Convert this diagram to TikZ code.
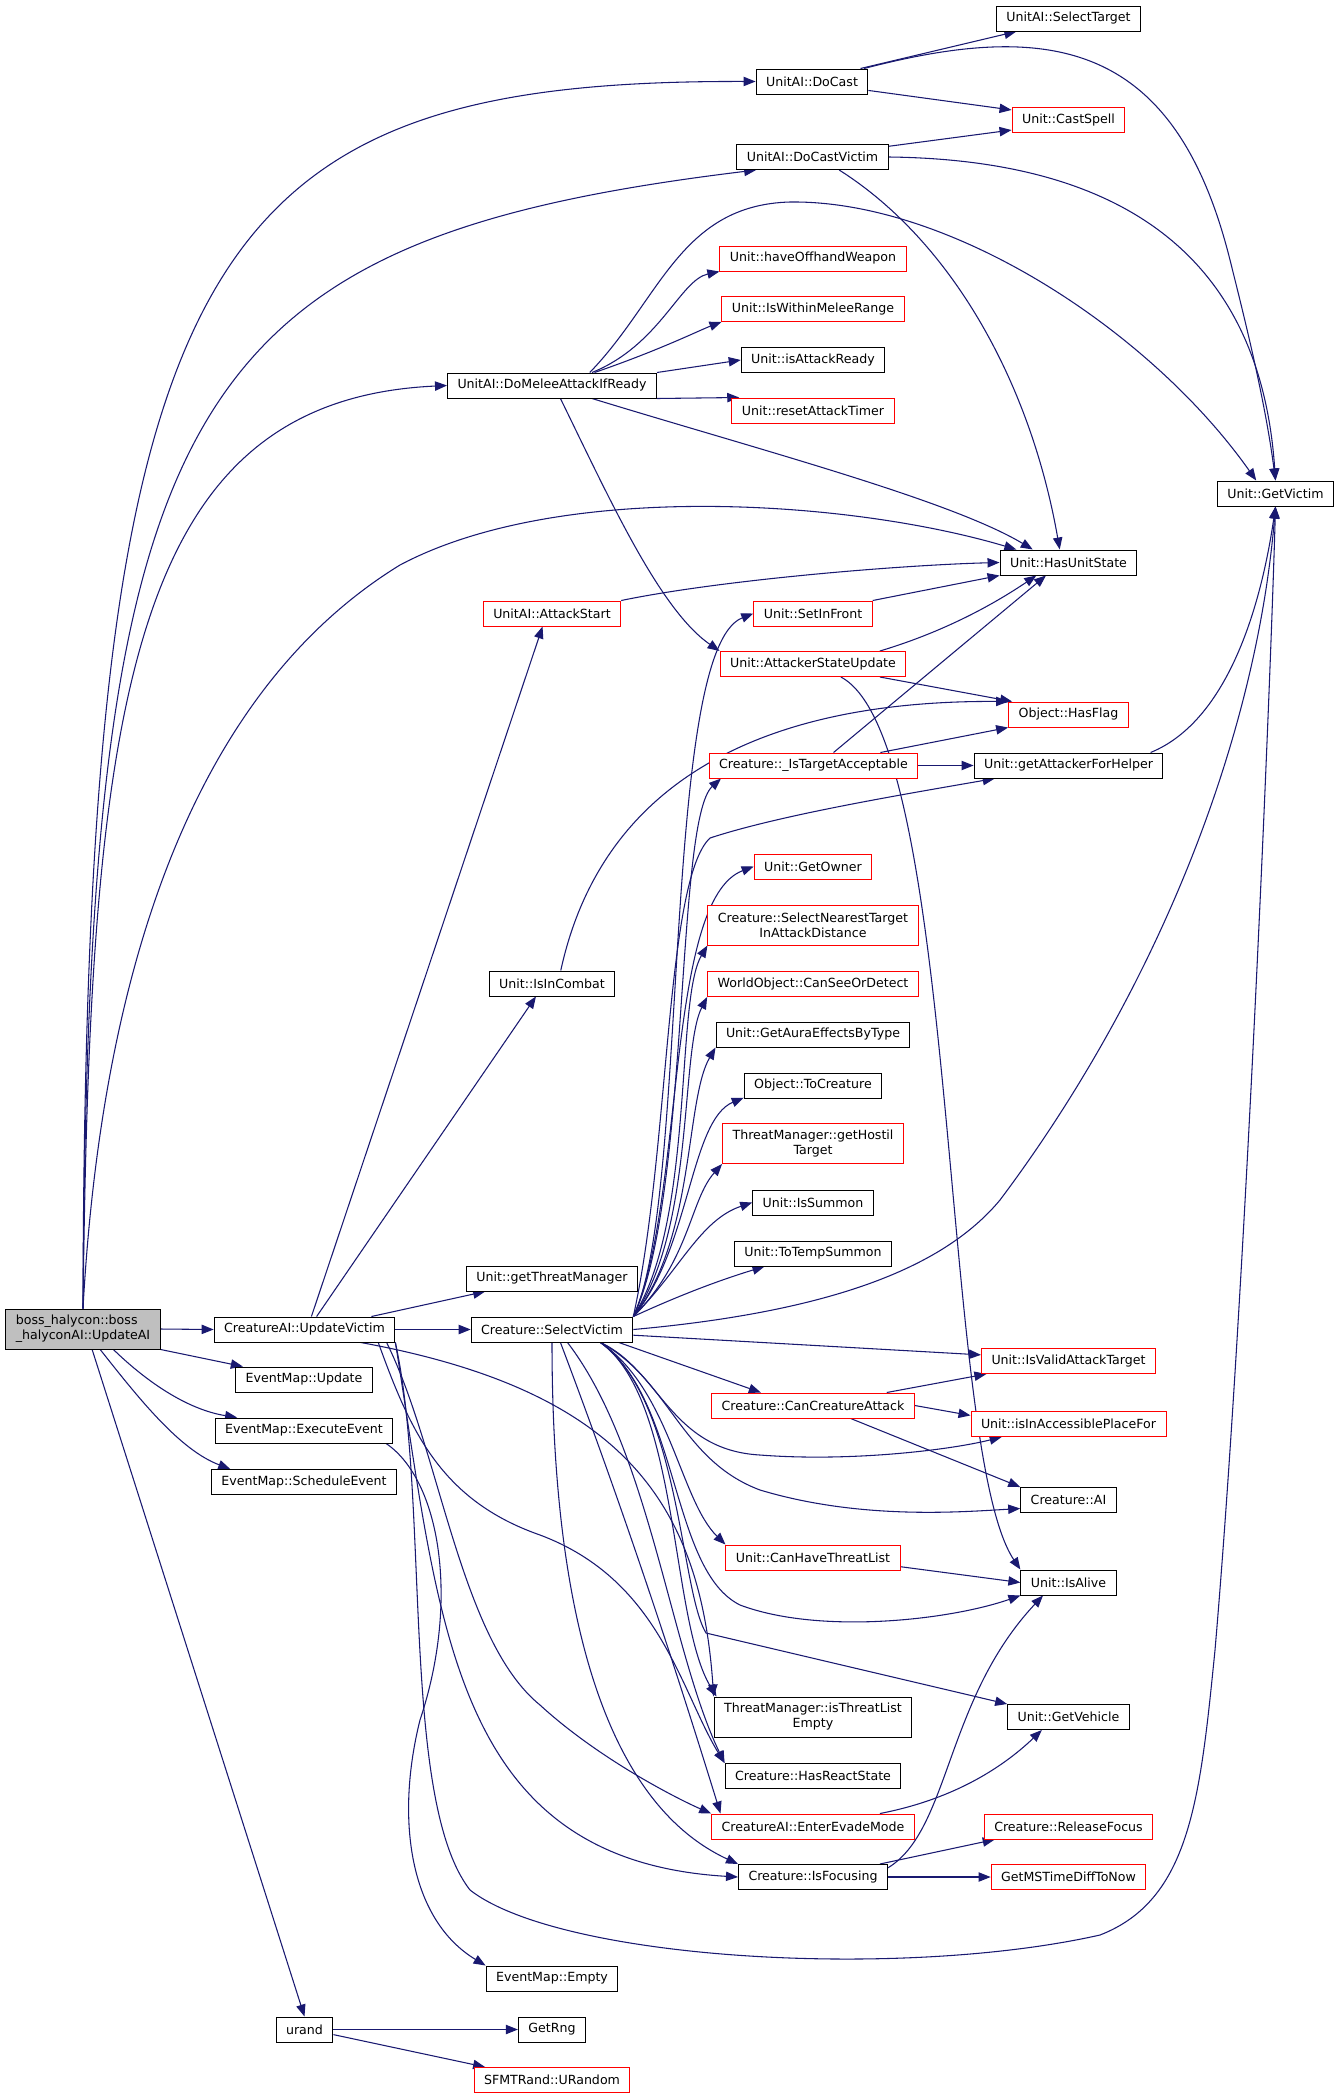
\documentclass[tikz,border=0pt]{standalone}
\usepackage{fontspec}
\setmainfont{DejaVu Sans}
\usetikzlibrary{arrows.meta,backgrounds}
\definecolor{edgeblue}{HTML}{191970}
\definecolor{rootgray}{HTML}{BFBFBF}

\begin{document}
\begin{tikzpicture}[x=0.75pt,y=-0.75pt,
    font=\fontsize{9.45}{11.25}\selectfont,
    fn/.style={draw=black,line width=0.75pt,fill=white,inner xsep=7.5pt,inner ysep=2pt,minimum height=18.75pt},
    fnred/.style={fn,draw=red},
    fnroot/.style={fn,fill=rootgray,align=left,minimum height=30pt},
    two/.style={align=center,minimum height=30pt},
    call/.style={draw=edgeblue,line width=0.8pt,-{Triangle[length=9pt,width=7pt]}}]
    \useasboundingbox (0,0) rectangle (1340,2099);

    \node[fnroot] (root) at (83,1329) {boss\_halycon::boss\\\_halyconAI::UpdateAI};

    \node[fn] (uv) at (304.5,1329.5) {CreatureAI::UpdateVictim};
    \node[fn] (emupd) at (304,1379.5) {EventMap::Update};
    \node[fn] (emexec) at (304,1430.5) {EventMap::ExecuteEvent};
    \node[fn] (emsched) at (304,1482) {EventMap::ScheduleEvent};
    \node[fn] (urand) at (304.5,2029.5) {urand};

    \node[fn] (dm) at (552,385.5) {UnitAI::DoMeleeAttackIfReady};
    \node[fnred] (as) at (552,613.5) {UnitAI::AttackStart};
    \node[fn] (ic) at (552,983.5) {Unit::IsInCombat};
    \node[fn] (gtm) at (552,1278.5) {Unit::getThreatManager};
    \node[fn] (sv) at (552,1329.5) {Creature::SelectVictim};
    \node[fn] (emp) at (552,1978.5) {EventMap::Empty};
    \node[fn] (rng) at (552,2029.5) {GetRng};
    \node[fnred] (sfmt) at (552,2080) {SFMTRand::URandom};

    \node[fn] (dc) at (812,81.5) {UnitAI::DoCast};
    \node[fn] (dcv) at (812.5,157) {UnitAI::DoCastVictim};
    \node[fnred] (hoff) at (813,258.5) {Unit::haveOffhandWeapon};
    \node[fnred] (iwmr) at (813,309) {Unit::IsWithinMeleeRange};
    \node[fn] (iar) at (813,360) {Unit::isAttackReady};
    \node[fnred] (rat) at (813,410.5) {Unit::resetAttackTimer};
    \node[fnred] (sif) at (813,613.5) {Unit::SetInFront};
    \node[fnred] (asu) at (813,664) {Unit::AttackerStateUpdate};
    \node[fnred] (ita) at (813.5,765.5) {Creature::\_IsTargetAcceptable};
    \node[fnred] (go) at (813,866.5) {Unit::GetOwner};
    \node[fnred,two] (snt) at (813,925) {Creature::SelectNearestTarget\\InAttackDistance};
    \node[fnred] (csd) at (813,984) {WorldObject::CanSeeOrDetect};
    \node[fn] (gaet) at (813,1034.5) {Unit::GetAuraEffectsByType};
    \node[fn] (tc) at (813,1085.5) {Object::ToCreature};
    \node[fnred,two] (ght) at (813,1143.5) {ThreatManager::getHostil\\Target};
    \node[fn] (is) at (813,1202.5) {Unit::IsSummon};
    \node[fn] (tts) at (813,1253.5) {Unit::ToTempSummon};
    \node[fnred] (cca) at (813,1405.5) {Creature::CanCreatureAttack};
    \node[fnred] (chtl) at (813,1557.5) {Unit::CanHaveThreatList};
    \node[fn,two] (itle) at (813,1717) {ThreatManager::isThreatList\\Empty};
    \node[fn] (hrs) at (813,1776) {Creature::HasReactState};
    \node[fnred] (eem) at (813,1826.5) {CreatureAI::EnterEvadeMode};
    \node[fn] (isf) at (813,1877) {Creature::IsFocusing};

    \node[fn] (st) at (1068.5,18.5) {UnitAI::SelectTarget};
    \node[fnred] (cs) at (1068.5,120) {Unit::CastSpell};
    \node[fn] (hus) at (1068.5,562.5) {Unit::HasUnitState};
    \node[fnred] (hf) at (1068.5,714.5) {Object::HasFlag};
    \node[fn] (gafh) at (1068.5,765.5) {Unit::getAttackerForHelper};
    \node[fnred] (ivat) at (1068.5,1361) {Unit::IsValidAttackTarget};
    \node[fnred] (iapf) at (1068.5,1424) {Unit::isInAccessiblePlaceFor};
    \node[fn] (cai) at (1068.5,1500) {Creature::AI};
    \node[fn] (ia) at (1068.5,1582.5) {Unit::IsAlive};
    \node[fn] (gveh) at (1068.5,1717) {Unit::GetVehicle};
    \node[fnred] (rf) at (1068.5,1826.5) {Creature::ReleaseFocus};
    \node[fnred] (gms) at (1068.5,1877) {GetMSTimeDiffToNow};

    \node[fn] (gv) at (1275.5,493.5) {Unit::GetVictim};

    \begin{scope}[on background layer]
    \draw[call] (root.north) .. controls (85,250) and (200,80) .. (dc.west);
    \draw[call] (root.north) .. controls (88,400) and (180,240) .. (dcv.193);
    \draw[call] (root.north) .. controls (90,700) and (130,400) .. (dm.west);
    \draw[call] (root.north) .. controls (100,1000) and (180,700) .. (400,565) .. controls (560,480) and (850,500) .. (hus.166);
    \draw[call] (root.east) -- (uv.west);
    \draw[call] (root.south east) -- (emupd.168);
    \draw[call] (root.326) .. controls (150,1385) and (190,1410) .. (emexec.169);
    \draw[call] (root.310) .. controls (140,1400) and (180,1450) .. (emsched.170);
    \draw[call] (root.294) -- (urand.north);

    \draw[call] (uv.62) -- (as.234);
    \draw[call] (uv.47) -- (ic.219);
    \draw[call] (uv.11) -- (gtm.191);
    \draw[call] (uv.east) -- (sv.west);
    \draw[call] (uv.347) .. controls (620,1390) and (700,1500) .. (itle.north west);
    \draw[call] (uv.350.5) .. controls (410,1430) and (440,1500) .. (540,1535) .. controls (660,1580) and (680,1690) .. (hrs.north west);
    \draw[call] (uv.351.5) .. controls (440,1450) and (460,1640) .. (540,1705) .. controls (600,1760) and (680,1800) .. (eem.north west);
    \draw[call] (uv.352) .. controls (440,1620) and (450,1860) .. (isf.west);
    \draw[call] (uv.south east) .. controls (430,1500) and (400,1800) .. (470,1890) .. controls (560,1960) and (900,1980) .. (1100,1935) .. controls (1190,1900) and (1200,1800) .. (1215,1650) .. controls (1245,1300) and (1270,700) .. (gv.south);

    \draw[call] (dc.15) -- (st.194);
    \draw[call] (dc.351) -- (cs.170);
    \draw[call] (dc.14) .. controls (1050,20) and (1175,40) .. (1230,260) .. controls (1245,320) and (1265,400) .. (gv.north);
    \draw[call] (dcv.8) -- (cs.190);
    \draw[call] (dcv.east) .. controls (1150,160) and (1262,280) .. (gv.north);
    \draw[call] (dcv.334) .. controls (950,240) and (1030,380) .. (hus.124);

    \draw[call] (dm.18) .. controls (660,345) and (680,280) .. (hoff.south west);
    \draw[call] (dm.17) .. controls (660,350) and (700,330) .. (iwmr.south west);
    \draw[call] (dm.north east) -- (iar.west);
    \draw[call] (dm.south east) -- (rat.170);
    \draw[call] (dm.342) .. controls (760,450) and (950,500) .. (hus.160);
    \draw[call] (dm.303) .. controls (610,500) and (660,610) .. (asu.north west);
    \draw[call] (dm.19) .. controls (660,300) and (680,205) .. (790,202) .. controls (950,200) and (1150,330) .. (gv.146);

    \draw[call] (as.north east) .. controls (720,580) and (900,565) .. (hus.west);
    \draw[call] (sif.north east) -- (hus.south west);
    \draw[call] (asu.11) .. controls (950,630) and (1000,600) .. (hus.202);
    \draw[call] (asu.349) -- (hf.167);
    \draw[call] (asu.335) .. controls (960,740) and (940,1450) .. (ia.north west);
    \draw[call] (ita.33) -- (hus.210);
    \draw[call] (ita.11) -- (hf.south west);
    \draw[call] (ita.east) -- (gafh.west);
    \draw[call] (ic.56) .. controls (600,790) and (750,700) .. (hf.north west);
    \draw[call] (gafh.9) .. controls (1230,720) and (1262,600) .. (gv.south);

    \draw[call] (sv.north east) .. controls (690,1200) and (660,650) .. (sif.west);
    \draw[call] (sv.north east) .. controls (690,1200) and (675,820) .. (ita.188);
    \draw[call] (sv.north east) .. controls (670,1150) and (665,880) .. (710,838) .. controls (780,815) and (900,795) .. (gafh.190);
    \draw[call] (sv.north east) .. controls (685,1200) and (665,900) .. (go.west);
    \draw[call] (sv.north east) .. controls (695,1220) and (675,1000) .. (snt.south west);
    \draw[call] (sv.north east) .. controls (695,1230) and (680,1050) .. (csd.south west);
    \draw[call] (sv.north east) .. controls (695,1240) and (685,1100) .. (gaet.south west);
    \draw[call] (sv.north east) .. controls (690,1250) and (690,1120) .. (tc.190);
    \draw[call] (sv.north east) .. controls (690,1260) and (690,1200) .. (ght.south west);
    \draw[call] (sv.north east) .. controls (680,1270) and (700,1220) .. (is.west);
    \draw[call] (sv.north east) .. controls (680,1295) and (720,1280) .. (tts.195);
    \draw[call] (sv.east) .. controls (850,1310) and (950,1260) .. (1000,1200) .. controls (1150,1000) and (1255,750) .. (gv.south);
    \draw[call] (sv.356) -- (ivat.176);
    \draw[call] (sv.349) -- (cca.166);
    \draw[call] (sv.345) .. controls (660,1370) and (670,1450) .. (760,1455) .. controls (850,1462) and (950,1450) .. (iapf.191);
    \draw[call] (sv.345) .. controls (670,1380) and (680,1460) .. (760,1490) .. controls (860,1520) and (960,1512) .. (cai.190);
    \draw[call] (sv.345) .. controls (670,1390) and (680,1500) .. (chtl.north west);
    \draw[call] (sv.345) .. controls (680,1400) and (670,1570) .. (740,1605) .. controls (820,1635) and (950,1620) .. (ia.south west);
    \draw[call] (sv.345) .. controls (680,1400) and (680,1590) .. (706,1633) -- (gveh.north west);
    \draw[call] (sv.345) .. controls (680,1400) and (670,1620) .. (itle.168);
    \draw[call] (sv.320) .. controls (650,1450) and (670,1650) .. (hrs.north west);
    \draw[call] (sv.303) .. controls (620,1500) and (670,1650) .. (eem.172);
    \draw[call] (sv.south) .. controls (552,1600) and (600,1800) .. (isf.north west);

    \draw[call] (cca.10) -- (ivat.189);
    \draw[call] (cca.east) -- (iapf.175);
    \draw[call] (cca.341) -- (cai.north west);
    \draw[call] (chtl.354) -- (ia.west);
    \draw[call] (eem.11) .. controls (950,1800) and (1000,1770) .. (gveh.206);
    \draw[call] (isf.11) -- (rf.190);
    \draw[call] (isf.east) -- (gms.west);
    \draw[call] (isf.7) .. controls (950,1830) and (945,1700) .. (ia.207);

    \draw[call] (emexec.351) .. controls (440,1480) and (460,1600) .. (420,1720) .. controls (395,1820) and (410,1920) .. (emp.north west);
    \draw[call] (urand.east) -- (rng.west);
    \draw[call] (urand.350) -- (sfmt.169);
    \end{scope}
\end{tikzpicture}
\end{document}
